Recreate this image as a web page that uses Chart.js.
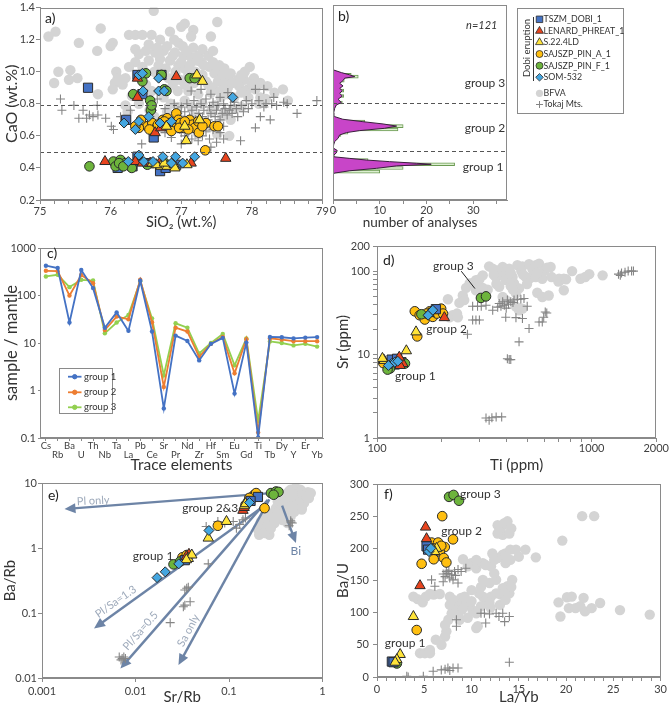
<!DOCTYPE html>
<html><head><meta charset="utf-8">
<script src="https://cdn.jsdelivr.net/npm/chart.js@4.4.1/dist/chart.umd.min.js"></script>
<style>html,body{margin:0;padding:0;background:#fff}#root{position:relative;width:669px;height:711px;overflow:hidden;background:#fff}canvas{position:absolute}</style>
</head><body><div id="root"></div><script>
// ---------------- DATA ----------------
// Panel a: CaO vs SiO2  [SiO2, CaO]
const aBFVA=[[75.12,1.22],[75.22,1.25],[75.26,1.0],[75.2,0.93],[75.43,1.01],[75.41,0.95],[75.53,0.96],[75.55,1.18],[75.81,1.13],[75.86,1.27],[75.82,0.86],[76.03,1.18],[76.0,1.16],[76.08,1.0],[76.1,0.96],[76.06,0.93],[76.03,0.89],[76.26,1.23],[76.35,1.23],[76.45,1.23],[76.58,1.23],[76.61,1.38],[76.7,1.2],[76.35,1.14],[76.4,1.11],[76.54,1.07],[76.35,1.06],[76.26,1.03],[76.21,0.96],[76.17,0.92],[76.54,1.17],[76.63,1.12],[76.75,1.13],[76.84,1.25],[76.91,1.12],[76.96,1.18],[76.84,1.07],[76.96,1.04],[76.68,1.04],[76.58,0.88],[76.24,0.75],[76.21,0.79],
[77.0,1.28],[77.05,1.3],[77.17,1.26],[77.51,1.31],[77.14,1.22],[77.42,1.22],[77.17,1.15],[77.03,1.1],[77.14,1.09],[77.24,1.1],[77.38,1.1],[77.28,1.06],[77.4,1.03],[77.54,1.04],[77.61,1.02],[77.97,1.03],[77.05,1.02],[77.47,0.99],[77.66,0.96],[77.8,0.95],[77.89,0.95],[78.03,0.96],[77.52,0.94],[77.38,0.92],[77.66,0.9],[77.82,0.91],[77.94,0.89],[78.05,0.89],[78.22,0.91],[78.44,0.89],[78.32,0.87],[78.51,0.82],[78.12,0.84],[77.75,0.84],[77.56,0.84],[77.42,0.87],[77.24,0.86],[77.1,0.88],[77.75,0.77],[77.61,0.75],[77.42,0.75],[77.68,0.6],[77.51,0.61],[77.38,0.65],[77.24,0.61],
[76.62,1.0],[76.7,1.08],[76.78,1.02],[76.82,0.96],[76.88,1.1],[76.92,1.0],[76.98,0.95],[77.0,1.06],[77.08,1.13],[77.1,0.98],[77.12,1.04],[77.2,1.0],[77.22,1.07],[77.3,0.98],[77.32,1.04],[77.35,0.94],[77.45,1.06],[77.5,1.0],[77.58,0.98],[77.6,0.92],[77.7,0.99],[77.72,0.93],[77.85,0.98],[77.9,1.0],[76.5,1.13],[76.45,1.03],[76.66,1.15],[76.8,1.16],[76.9,1.2],[77.02,1.16],[77.3,1.14],[77.45,1.13],[76.88,0.92],[76.95,0.88],[77.05,0.92],[77.18,0.93],[77.25,0.95],[77.45,0.9],[77.55,0.88],[77.65,0.86],[77.85,0.87],[77.95,0.84],[78.0,0.92],[78.12,0.93],[76.75,0.84],[76.85,0.8],[76.95,0.78],[77.05,0.82],[77.15,0.78],[77.3,0.8],[77.48,0.79],[77.58,0.72],[77.7,0.7],[77.2,0.72],[77.35,0.68],[78.1,0.8],[76.5,0.92],[76.3,0.85],[76.4,0.8],[76.55,0.76],[76.62,0.72],[76.8,0.75],[77.02,0.7],[77.85,0.78],[78.2,0.83]];
const aTokaj=[[75.29,0.83],[75.31,0.76],[75.48,0.79],[75.55,0.71],[75.61,0.76],[75.66,0.71],[75.7,0.73],[75.75,0.72],[75.81,0.79],[75.82,0.73],[75.93,0.71],[76.01,0.66],[76.04,0.64],[76.14,0.72],[76.28,0.76],[76.44,0.55],[76.59,0.76],[76.66,0.83],[76.77,0.77],
[76.86,0.59],[76.77,0.62],[76.86,0.64],[77.0,0.55],[77.24,0.57],[77.42,0.53],[77.14,0.88],[77.28,0.89],[77.42,0.86],[77.55,0.84],[77.66,0.87],[77.7,0.79],[77.84,0.57],[76.9,0.8],[76.95,0.74],[77.0,0.78],[77.05,0.75],[77.08,0.8],[77.12,0.72],[77.15,0.76],[77.18,0.82],[77.2,0.7],[77.22,0.78],[77.25,0.74],[77.28,0.8],[77.3,0.72],[77.32,0.76],[77.35,0.83],[77.38,0.7],[77.4,0.78],[77.42,0.74],[77.45,0.81],[77.48,0.72],[77.5,0.76],[77.52,0.79],[77.55,0.7],[77.58,0.74],[77.6,0.8],[77.62,0.77],[77.65,0.73],[77.68,0.76],[77.72,0.74],[77.75,0.81],[77.78,0.77],[77.8,0.72],[77.85,0.79],[77.88,0.75],[77.0,0.62],[77.05,0.6],[77.1,0.64],[77.15,0.58],[77.2,0.62],[77.25,0.66],[77.3,0.6],[77.35,0.63],[77.4,0.58],[77.45,0.64],[77.5,0.56],[77.55,0.62],[77.6,0.58],[76.92,0.68],[76.98,0.64],[77.1,0.68],[77.6,0.66],
[78.05,0.89],[78.17,0.89],[78.1,0.82],[78.12,0.72],[78.05,0.65],[78.26,0.7],[78.17,0.78],[78.31,0.84],[78.64,0.74],[78.92,0.82],[78.0,0.8],[78.2,0.8],[78.35,0.79],[78.5,0.8],[78.28,0.8],[77.95,0.77],[77.92,0.82],[78.45,0.81]];
const aTSZM=[[75.68,0.9],[76.38,0.98],[76.72,0.98],[76.45,0.86],[76.22,0.7],[76.61,0.59],[76.1,0.4],[76.38,0.47],[76.7,0.38],[76.31,0.41],[76.93,0.42],[76.55,0.43],[76.78,0.4]];
const aLENARD=[[76.93,0.97],[76.38,0.96],[76.38,0.84],[76.63,0.62],[75.92,0.44],[76.35,0.44],[76.56,0.43],[76.72,0.45],[77.14,0.43],[77.63,0.46],[76.71,0.65],[76.45,0.43]];
const aS22=[[77.22,0.98],[77.3,0.94],[77.26,0.7],[77.05,0.66],[76.79,0.66],[77.07,0.57],[76.59,0.43],[76.71,0.41],[76.8,0.41],[76.9,0.42],[76.91,0.4],[77.08,0.42],[76.65,0.42],[76.76,0.43]];
const aPINA=[[76.45,0.67],[76.52,0.66],[76.59,0.68],[76.66,0.66],[76.74,0.7],[76.8,0.71],[76.83,0.68],[76.86,0.66],[76.93,0.74],[76.96,0.7],[76.99,0.68],[77.03,0.65],[77.12,0.7],[77.16,0.67],[77.19,0.65],[77.24,0.69],[77.25,0.62],[77.35,0.68],[77.47,0.66],[77.52,0.66],[77.34,0.51],[76.67,0.67],[76.86,0.63],[76.97,0.65],[77.05,0.69],[76.76,0.69],[76.4,0.65],[76.43,0.7],[76.55,0.64],[77.1,0.64],[76.35,0.66],[77.3,0.66]];
const aPINF=[[76.5,0.99],[76.72,0.98],[76.45,0.94],[77.12,0.96],[77.19,0.96],[76.32,0.86],[76.76,0.89],[76.79,0.88],[76.56,0.82],[76.57,0.76],[76.58,0.79],[75.7,0.41],[76.04,0.44],[76.14,0.45],[76.21,0.43],[76.07,0.41],[76.3,0.4],[76.12,0.43],[76.18,0.41],[76.77,0.43],[76.52,0.42]];
const aSOM=[[76.4,0.98],[76.45,0.99],[76.68,0.96],[76.46,0.88],[76.68,0.88],[76.76,0.88],[77.73,0.84],[76.19,0.68],[76.35,0.64],[76.4,0.69],[76.54,0.72],[76.7,0.68],[76.86,0.69],[76.25,0.44],[76.4,0.48],[76.47,0.44],[76.74,0.47],[76.86,0.43],[76.92,0.47],[77.02,0.43],[77.19,0.47],[76.6,0.44]];
const aGroupLines=[0.795,0.502];
const aXLabels=[75,76,77,78,79];
const aYLabels=[0.2,0.4,0.6,0.8,1.0,1.2,1.4];

// Panel b: histogram  [CaO, count]
const bMagenta=[[1.00,0.15],[0.984,1.8],[0.97,3.6],[0.959,4.65],[0.95,2.5],[0.935,2.15],[0.918,1.43],[0.902,2.15],[0.887,1.43],[0.873,2.0],[0.856,1.43],[0.84,2.0],[0.82,1.08],[0.80,1.79],[0.785,0.72],[0.764,0.36],[0.737,0.15],[0.723,0.15],[0.713,0.36],[0.697,2.1],[0.682,6.4],[0.668,10.7],[0.655,13.6],[0.641,11],[0.627,5.7],[0.615,2.9],[0.60,1.4],[0.58,1.1],[0.56,0.36],[0.54,0.15],[0.52,0.05],[0.505,0.9],[0.49,0.72],[0.476,0.15],[0.466,0.15],[0.456,3.6],[0.446,7.1],[0.436,12.1],[0.426,17.9],[0.42,21],[0.41,13.6],[0.395,9.3],[0.38,3.6],[0.366,0.4],[0.36,0]];
const bGreen=[[0.97,3.9],[0.959,5.4],[0.935,2.4],[0.873,2.3],[0.84,2.3],[0.80,2.0],[0.682,6.8],[0.655,15],[0.634,13.9],[0.615,3.2],[0.60,1.7],[0.446,7.5],[0.42,26],[0.397,15],[0.375,10]];
const bXLabels=[0,10,20,30];
const bGroupText=[['group 3',32.5,0.922],['group 2',32.5,0.645],['group 1',32.1,0.405]];

// Panel c: spider diagram
const cElements=['Cs','Rb','Ba','U','Th','Nb','Ta','La','Pb','Ce','Sr','Pr','Nd','Zr','Hf','Sm','Eu','Gd','Ti','Tb','Dy','Y','Er','Yb'];
const cGroup1=[424,378,27,343,143,21,44,18,204,17.4,0.42,14.3,11,4.3,9.6,12.8,0.86,10.2,0.103,13.4,13.2,12.5,13,13.3];
const cGroup2=[331,325,100,270,182,18.8,36,31.6,214,27.4,1.19,21,17.4,5.1,9.6,13.4,2.3,12.0,0.13,12.6,11.8,10.9,10.9,10.9];
const cGroup3=[252,273,150,214,207,16,27,39,200,33,2.1,26,21,6,10,15.5,3.4,12.4,0.23,10.8,10,8.9,9.6,8.4];
const cYLabels=[0.1,1,10,100,1000];

// Panel d: Sr vs Ti  [Ti, Sr]
const dBFVA=[[214,46],[225,29.6],[236,31],[242,41.6],[251,51],[260,63],[270,71],[255,45],[279,72],[289,78],[294,66],[311,89],[328,60],[333,114],[346,107],[365,102],[371,65],[378,89],[398,78],[413,107],[420,66],[435,71],[451,118],[459,62],[476,114],[493,85],[511,121],[529,85],[549,118],[569,123],[511,81],[558,55],[589,49],[631,51],[644,112],[716,78],[742,81],[742,59],[811,100],[887,81],[934,85],[975,92],[1125,89],[218,28],[238,28],[444,37.5],[459,34],[476,35.5],[385,49],[398,45],[444,54],[428,85],[385,112],[289,59],[311,63],[358,85],[549,85],[589,81],[705,81],[400,100],[420,95],[470,100],[530,105],[600,100],[620,110],[350,90],[300,80],[360,70],[430,60],[500,70],[560,95],[650,85],[700,75],[760,80],[480,90]];
const dTokaj=[[279,38],[294,38],[306,38],[322,39],[346,34],[371,41],[378,38],[385,43],[392,39],[405,45],[420,43],[435,45],[451,46],[468,46],[484,47],[501,38],[398,28],[444,27.7],[476,27],[279,26],[289,26],[300,26],[264,17.5],[459,14.2],[511,20.5],[569,24.6],[589,24.6],[598,28],[608,32.4],[618,31.5],[405,8.9],[413,8.7],[420,8.7],[322,1.74],[333,1.63],[343,1.75],[359,1.79],[381,1.79],[1334,92],[1378,95],[1431,97],[1480,100],[1535,100],[1566,100],[1360,89],[410,40],[430,42],[400,36],[365,37]];
const dTSZM=[[117,8.7],[130,8.1],[124,8.9],[121,7.6],[188,35]];
const dLENARD=[[132,7.8],[128,7.4],[206,27.7],[127,9.3]];
const dS22=[[108,8.5],[137,11.1],[152,18.7],[106,9.0],[175,31]];
const dPINA=[[107,7.9],[154,16.5],[150,33],[158,29.6],[167,26.3],[176,29.6],[195,34],[199,35.5],[182,28.3],[176,33],[190,31],[170,31],[203,31]];
const dPINF=[[115,6.8],[135,7.8],[161,30.4],[305,47.7],[322,49.8],[112,6.6]];
const dSOM=[[117,7.8],[121,8.1],[113,7.4],[176,31],[173,29.6],[182,34],[125,8.3]];
const dXLabels=[100,1000,2000];
const dYLabels=[1,10,100,200];

// Panel e: Ba/Rb vs Sr/Rb  [Sr/Rb, Ba/Rb]
const eBFVA=[[0.203,1.95],[0.229,2.14],[0.259,2.56],[0.281,3.24],[0.318,4.11],[0.359,4.9],[0.389,5.87],[0.422,7.0],[0.457,7.9],[0.517,6.6],[0.561,5.53],[0.634,4.9],[0.688,7.0],[0.716,5.87],[0.58,7.9],[0.5,4.36],[0.422,3.66],[0.345,3.06],[0.307,2.42],[0.27,1.6],[0.24,2.05],[0.374,2.7],[0.405,4.36],[0.457,5.53],[0.538,4.36],[0.6,3.9],[0.422,2.42],[0.457,3.06],[0.307,3.66],[0.249,3.24],[0.22,2.56],[0.517,8.4],[0.374,6.6],[0.332,5.2],[0.6,7.5],[0.65,6.5],[0.7,7.2],[0.75,7.0],[0.55,6.0],[0.48,6.9],[0.44,7.5],[0.52,5.0],[0.62,5.5],[0.4,5.0],[0.36,4.0],[0.33,3.5],[0.29,2.9],[0.26,2.3],[0.23,1.8],[0.21,1.6],[0.24,1.7],[0.28,2.0],[0.31,2.6],[0.35,3.0],[0.38,3.4],[0.43,4.2],[0.47,4.6],[0.5,3.6],[0.56,4.8],[0.6,4.2],[0.68,6.0],[0.45,6.2]];
const eTokaj=[[0.457,2.63],[0.475,2.42],[0.44,2.2],[0.141,2.72],[0.111,2.56],[0.12,2.02],[0.09,2.42],[0.076,2.56],[0.057,2.14],[0.06,0.57],[0.0353,0.24],[0.0367,0.25],[0.0337,0.226],[0.0384,0.149],[0.0337,0.132],[0.0325,0.125],[0.0235,0.071],[0.0072,0.02],[0.0067,0.021],[0.0075,0.021],[0.0078,0.02],[0.007,0.019],[0.13,2.3],[0.15,2.9],[0.46,2.5]];
const eTSZM=[[0.204,6.1],[0.0337,0.65],[0.17,5.3]];
const eLENARD=[[0.141,3.8],[0.0373,0.8],[0.035,0.74],[0.145,4.2]];
const eS22=[[0.146,4.47],[0.094,2.56],[0.06,1.42],[0.0367,0.69],[0.04,0.78],[0.035,0.66],[0.15,4.8]];
const ePINA=[[0.187,6.6],[0.179,6.2],[0.171,5.5],[0.16,5.2],[0.15,4.6],[0.195,7.0],[0.24,4.1],[0.076,2.2],[0.165,5.9],[0.0318,0.72],[0.0353,0.78]];
const ePINF=[[0.281,7.0],[0.318,7.4],[0.338,7.3],[0.3,6.6],[0.0255,0.56],[0.03,0.62]];
const eSOM=[[0.166,5.0],[0.061,1.86],[0.017,0.35],[0.0208,0.43],[0.029,0.57]];
const eArrows=[[0.33,7.1,0.00174,3.97],[0.247,4.62,0.0036,0.058],[0.26,5.5,0.0069,0.014],[0.27,5.6,0.0288,0.0158],[0.37,4.5,0.52,1.19]];
const eArrowText=[['Pl only',0.00353,5.33,-3],['Pl/Sa=1.3',0.00615,0.149,-35],['Pl/Sa=0.5',0.0113,0.053,-49],['Sa only',0.0368,0.054,-62]];
const eXLabels=[0.001,0.01,0.1,1];
const eYLabels=[0.01,0.1,1,10];

// Panel f: Ba/U vs La/Yb  [La/Yb, Ba/U]
const fBFVA=[[4.3,121],[4.83,116],[5.17,125],[5.6,129],[6.0,128],[6.64,129],[3.85,125],[4.55,37],[5.07,37],[5.6,42],[5.6,37],[6.22,58],[6.82,50],[7.2,63],[7.34,71],[7.2,81],[7.55,89],[7.9,99],[8.2,107],[8.57,115],[8.9,123],[9.27,125],[8.4,99],[8.74,89],[9.27,110],[9.8,112],[10.1,104],[10.66,79],[10.5,99],[11.0,110],[11.5,120],[12.06,125],[12.6,130],[13.3,138],[13.8,141],[14.3,151],[14.0,130],[13.1,128],[11.9,115],[11.2,125],[9.44,117],[8.04,120],[7.7,125],[9.6,172],[9.96,177],[10.5,169],[10.66,177],[11.2,177],[11.5,174],[12.06,172],[12.4,182],[12.2,192],[12.76,185],[13.3,190],[13.6,192],[14.1,198],[14.7,198],[15.0,187],[15.7,198],[16.8,186],[13.6,177],[14.1,182],[9.1,183],[10.5,182],[12.76,236],[13.1,231],[13.46,239],[13.8,242],[14.2,231],[12.9,226],[13.3,221],[14.0,223],[12.76,223],[19.6,212],[19.4,94],[19.2,116],[20.1,124],[20.6,125],[20.3,107],[21.0,107],[21.5,110],[21.85,123],[22.0,102],[22.7,107],[23.6,115],[21.7,250],[22.97,250],[25.7,104],[28.85,97],[10.5,76],[12.6,151],[12.4,161],[11.9,146],[11.2,151],[8.0,110],[9.0,105],[10.0,118],[10.8,130],[12.0,108],[13.0,112],[13.6,120],[8.6,95],[9.6,92],[14.2,140],[7.7,112],[11.0,140],[10.0,135]];
const fTokaj=[[5.77,151],[6.12,141],[7.0,148],[7.2,156],[7.5,161],[7.9,159],[8.2,164],[8.57,167],[8.9,164],[9.4,169],[7.34,164],[7.7,154],[8.04,151],[8.57,146],[7.0,160],[7.6,166],[8.3,158],[11.0,99],[11.36,99],[11.9,98],[12.6,99],[12.9,94],[13.5,86],[14.0,94],[13.3,99],[11.5,84],[8.4,79],[8.4,89],[14.0,23],[3.15,1],[3.3,0],[4.9,1],[5.94,9],[6.8,11],[7.2,12],[7.5,14],[8.04,14],[8.57,14],[7.7,10]];
const fTSZM=[[5.24,203],[1.57,24],[1.75,23],[5.4,198]];
const fLENARD=[[5.14,233],[5.24,215],[4.55,142]];
const fS22=[[6.3,200],[5.94,198],[3.85,94],[2.45,35],[2.1,27],[1.92,23],[6.1,195]];
const fPINA=[[6.9,250],[8.04,214],[5.77,209],[6.47,209],[7.17,202],[5.94,200],[6.64,195],[7.06,185],[6.0,183],[7.34,178],[4.72,176],[4.2,73],[6.8,204]];
const fPINF=[[7.62,280],[8.1,283],[8.67,274],[2.1,21]];
const fSOM=[[5.49,195],[5.7,200]];
const fXLabels=[0,5,10,15,20,25,30];
const fYLabels=[0,50,100,150,200,250,300];

const legendItems=[['TSZM','TSZM_DOBI_1'],['LENARD','LENARD_PHREAT_1'],['S22','S.22.4LD'],['PINA','SAJSZP_PIN_A_1'],['PINF','SAJSZP_PIN_F_1'],['SOM','SOM-532']];

// ---------------- STYLE / HELPERS ----------------
const FONT="Lato, 'Open Sans', 'DejaVu Sans', sans-serif";
Chart.defaults.font.family=FONT;
Chart.defaults.color='#3a3a3a';
Chart.defaults.animation=false;
Chart.defaults.plugins.legend.display=false;
Chart.defaults.plugins.tooltip.enabled=false;
Chart.defaults.events=[];
const AX='#8a8a8a';
const S={
 TSZM:{style:'rect',r:6.5,bg:'#4472c4'},
 LENARD:{style:'triangle',r:6,bg:'#e8441e'},
 S22:{style:'triangle',r:6,bg:'#ffe43a'},
 PINA:{style:'circle',r:4.8,bg:'#ffbf10'},
 PINF:{style:'circle',r:4.8,bg:'#6db43c'},
 SOM:{style:'rectRot',r:5,bg:'#44a6e0'}
};
const root=document.getElementById('root');
function mk(l,t,w,h){const c=document.createElement('canvas');c.width=w;c.height=h;c.style.left=l+'px';c.style.top=t+'px';c.style.width=w+'px';c.style.height=h+'px';root.appendChild(c);return c;}
function pts(a){return a.map(p=>({x:p[0],y:p[1]}));}
function sampleSets(list){return list.map(([k,d])=>({data:pts(d),pointStyle:S[k].style,pointRadius:S[k].r,backgroundColor:S[k].bg,borderColor:'#2a2a2a',borderWidth:1}));}
function bgSets(bfva,tokaj){return [
 {data:pts(tokaj),pointStyle:'cross',pointRadius:4.5,borderColor:'#858585',backgroundColor:'#858585',borderWidth:1.1},
 {data:pts(bfva),pointStyle:'circle',pointRadius:5.2,backgroundColor:'#d4d4d4',borderColor:'rgba(0,0,0,0)',borderWidth:0}];}
function range(a,b,s){const r=[];for(let v=a;v<=b+1e-9;v+=s)r.push(+v.toFixed(4));return r;}
function ax(o){
 const major=o.major||[],all=o.all||major;
 const isMajor=v=>major.some(m=>Math.abs(m-v)<1e-9*Math.max(1,Math.abs(m)));
 const c={type:o.type||'linear',min:o.min,max:o.max,offset:!!o.offset,
  afterFit:s=>{if(o.x)s.height=o.size;else s.width=o.size;},
  ticks:{display:o.showTicks!==false,autoSkip:false,maxRotation:0,minRotation:0,padding:o.pad??1,color:'#404040',font:{size:o.fs||11,lineHeight:o.lh||1.2},
   callback:o.cb||(v=>isMajor(v)?(o.fmt?o.fmt(v):String(v)):'')},
  grid:{drawOnChartArea:false,drawTicks:o.tl!==0,tickLength:o.tl??4,color:AX,offset:false},
  border:{display:true,color:AX,width:1},
  title:{display:!!o.title,text:o.title,color:'#333',font:{size:o.ts||15},padding:o.tpad||0}};
 if(o.type!=='category')c.afterBuildTicks=s=>{s.ticks=all.map(v=>({value:v}));};
 return c;
}
function text(ctx,s,x,y,o={}){
 ctx.save();ctx.translate(x,y);if(o.rot)ctx.rotate(o.rot*Math.PI/180);
 ctx.font=`${o.style||''} ${o.size||12}px ${FONT}`;ctx.fillStyle=o.color||'#333';
 ctx.textAlign=o.align||'center';ctx.textBaseline=o.base||'middle';ctx.fillText(s,0,0);ctx.restore();
}
function dtext(ch,s,xv,yv,o){text(ch.ctx,s,ch.scales.x.getPixelForValue(xv),ch.scales.y.getPixelForValue(yv),o);}
function marker(ctx,style,x,y,r,fill,stroke,lw=1){
 ctx.save();ctx.beginPath();ctx.fillStyle=fill;ctx.strokeStyle=stroke;ctx.lineWidth=lw;
 if(style==='circle'){ctx.arc(x,y,r,0,Math.PI*2);}
 else if(style==='rect'){const s=r*Math.SQRT1_2;ctx.rect(x-s,y-s,2*s,2*s);}
 else if(style==='rectRot'){ctx.moveTo(x,y-r);ctx.lineTo(x+r,y);ctx.lineTo(x,y+r);ctx.lineTo(x-r,y);ctx.closePath();}
 else if(style==='triangle'){for(let i=0;i<3;i++){const a=i*2*Math.PI/3;const px=x+Math.sin(a)*r,py=y-Math.cos(a)*r;i?ctx.lineTo(px,py):ctx.moveTo(px,py);}ctx.closePath();}
 else if(style==='cross'){ctx.moveTo(x-r,y);ctx.lineTo(x+r,y);ctx.moveTo(x,y-r);ctx.lineTo(x,y+r);ctx.stroke();ctx.restore();return;}
 ctx.fill();ctx.stroke();ctx.restore();
}
const frame={id:'frame',afterDraw(ch){const {ctx,chartArea:a}=ch;ctx.save();ctx.strokeStyle=AX;ctx.lineWidth=1;
 ctx.strokeRect(Math.round(a.left)+0.5,Math.round(a.top)+0.5,Math.round(a.right-a.left)-1,Math.round(a.bottom-a.top)-1);ctx.restore();}};
function panelLabel(s,dx,dy){return {id:'pl'+s,afterDraw(ch){const a=ch.chartArea;text(ch.ctx,s,a.left+dx,a.top+dy,{size:14,align:'left',color:'#222'});}};}
function hlines(vals){return {id:'hl',afterDatasetsDraw(ch){const {ctx,chartArea:a}=ch;ctx.save();ctx.strokeStyle='#555';ctx.lineWidth=1;ctx.setLineDash([4,3]);
 vals.forEach(v=>{const y=Math.round(ch.scales.y.getPixelForValue(v))+0.5;ctx.beginPath();ctx.moveTo(a.left,y);ctx.lineTo(a.right,y);ctx.stroke();});ctx.restore();}};}
const base=(pad)=>({responsive:false,maintainAspectRatio:false,devicePixelRatio:1,layout:{padding:pad}});

// ---------------- PANEL A ----------------
new Chart(mk(0,0,330,240),{type:'scatter',
 data:{datasets:[...sampleSets([['SOM',aSOM],['S22',aS22],['LENARD',aLENARD],['PINF',aPINF],['PINA',aPINA],['TSZM',aTSZM]]),...bgSets(aBFVA,aTokaj)]},
 options:{...base({top:5,right:4,left:0,bottom:0}),
  scales:{x:ax({x:true,min:75,max:79,major:aXLabels,all:range(75,79,0.2),size:40,pad:1,title:'SiO₂ (wt.%)',ts:14.5,tpad:{bottom:9}}),
          y:ax({min:0.2,max:1.4,major:aYLabels,size:40,pad:1,fmt:v=>v.toFixed(1),title:'CaO (wt.%)',ts:16,tpad:{top:2}})}},
 plugins:[hlines(aGroupLines),frame,panelLabel('a)',5,11)]});

// ---------------- PANEL B ----------------
new Chart(mk(300,0,369,240),{type:'line',
 data:{datasets:[
  {type:'line',data:bMagenta.map(p=>({x:p[1],y:p[0]})),fill:'origin',backgroundColor:'#c845c8',borderColor:'#3a1d3d',borderWidth:1,pointRadius:0,tension:0},
  {type:'bar',data:bGreen.map(p=>({x:p[1],y:p[0]})),backgroundColor:'#dcefd0',borderColor:'#6b9a52',borderWidth:1,barThickness:3}]},
 options:{...base({top:5,right:162,left:0,bottom:0}),indexAxis:'y',
  scales:{x:ax({x:true,min:0,max:37.2,major:bXLabels,all:range(0,35,5),size:40,pad:0,title:'number of analyses',ts:13.5,tpad:{bottom:9}}),
          y:ax({min:0.2,max:1.4,major:[],all:[0.2,1.4],size:33,showTicks:false,tl:0})}},
 plugins:[hlines(aGroupLines),frame,panelLabel('b)',5,11),{id:'bt',afterDraw(ch){
  const ctx=ch.ctx;
  dtext(ch,'n=121',31.8,1.273,{size:11,style:'italic'});
  bGroupText.forEach(g=>dtext(ch,g[0],g[1],g[2],{size:12}));
  // legend box (canvas coords; canvas left = 300)
  const L=217,T=8;
  ctx.save();ctx.strokeStyle='#8a8a8a';ctx.lineWidth=1;ctx.strokeRect(L+0.5,T+0.5,106,105);
  ctx.strokeStyle='#333';ctx.beginPath();ctx.moveTo(233.5,17);ctx.lineTo(233.5,81);ctx.stroke();ctx.restore();
  text(ctx,'Dobi eruption',226.5,48,{size:9.5,rot:-90});
  const ys=[19.3,31,42.3,54,65.7,77.3];
  legendItems.forEach((it,i)=>{const st=S[it[0]];marker(ctx,st.style,239.5,ys[i],st.style==='circle'?3.5:(st.style==='rectRot'?3.8:4.6),st.bg,'#2a2a2a',0.8);
   text(ctx,it[1],243.5,ys[i],{size:8.8,align:'left',color:'#333'});});
  marker(ctx,'circle',239.5,93.3,3.6,'#d4d4d4','rgba(0,0,0,0)',0);
  text(ctx,'BFVA',243.5,93.3,{size:8.8,align:'left',color:'#333'});
  marker(ctx,'cross',239.5,104.5,3.5,'#858585','#858585',1);
  text(ctx,'Tokaj Mts.',243.5,104.5,{size:8.8,align:'left',color:'#333'});
 }}]});

// ---------------- PANEL C ----------------
new Chart(mk(0,235,330,240),{type:'line',
 data:{labels:cElements,datasets:[
  {data:cGroup1,borderColor:'#4472c4',backgroundColor:'#4472c4',borderWidth:1.8,pointRadius:2.2,pointBorderWidth:0},
  {data:cGroup2,borderColor:'#ed7d31',backgroundColor:'#ed7d31',borderWidth:1.8,pointRadius:2.2,pointBorderWidth:0},
  {data:cGroup3,borderColor:'#92d050',backgroundColor:'#92d050',borderWidth:1.8,pointRadius:2.2,pointBorderWidth:0}]},
 options:{...base({top:13,right:7,left:0,bottom:0}),
  scales:{x:ax({x:true,type:'category',offset:true,size:37,pad:0,tl:3,fs:9.5,lh:1.0,title:'Trace elements',ts:15.5,tpad:{bottom:1},
           cb:(v,i)=>i%2===0?[cElements[i],'']:['',cElements[i]]}),
          y:ax({type:'logarithmic',min:0.1,max:1000,major:cYLabels,size:40,pad:2,tl:2,title:'sample / mantle',ts:16.5,tpad:{top:2}})}},
 plugins:[frame,panelLabel('c)',7,5),{id:'cl',afterDraw(ch){
  const ctx=ch.ctx,a=ch.chartArea,L=a.left+19,T=a.top+120;
  ctx.save();ctx.fillStyle='#fff';ctx.fillRect(L,T,53,45);ctx.strokeStyle='#8a8a8a';ctx.lineWidth=1;ctx.strokeRect(L+0.5,T+0.5,53,45);ctx.restore();
  [['group 1','#4472c4',8.7],['group 2','#ed7d31',24.3],['group 3','#92d050',39.3]].forEach(([s,c,dy])=>{
   ctx.save();ctx.strokeStyle=c;ctx.lineWidth=1.8;ctx.beginPath();ctx.moveTo(L+9,T+dy);ctx.lineTo(L+22.5,T+dy);ctx.stroke();ctx.restore();
   marker(ctx,'circle',L+15.7,T+dy,2.2,c,c,0);
   text(ctx,s,L+25,T+dy,{size:9.5,align:'left'});});
 }}]});

// ---------------- PANEL D ----------------
new Chart(mk(330,235,339,240),{type:'scatter',
 data:{datasets:[...sampleSets([['SOM',dSOM],['S22',dS22],['LENARD',dLENARD],['PINF',dPINF],['TSZM',dTSZM],['PINA',dPINA]]),...bgSets(dBFVA,dTokaj)]},
 options:{...base({top:11,right:11,left:0,bottom:0}),
  scales:{x:ax({x:true,type:'logarithmic',min:100,max:2000,major:dXLabels,all:[100,200,300,400,500,600,700,800,900,1000,2000],size:37,pad:0,title:'Ti (ppm)',tpad:{bottom:1}}),
          y:ax({type:'logarithmic',min:1,max:200,major:dYLabels,all:[1,2,3,4,5,6,7,8,9,10,20,30,40,50,60,70,80,90,100,200],size:47,pad:3,title:'Sr (ppm)',tpad:{top:4}})}},
 plugins:[frame,panelLabel('d)',6,14),{id:'dt',afterDraw(ch){
  const ctx=ch.ctx,X=ch.scales.x,Y=ch.scales.y;
  dtext(ch,'group 3',227,114.5,{size:12});
  ctx.save();ctx.strokeStyle='#222';ctx.lineWidth=1;ctx.beginPath();ctx.moveTo(X.getPixelForValue(247),Y.getPixelForValue(99.7));ctx.lineTo(X.getPixelForValue(286),Y.getPixelForValue(61.8));ctx.stroke();ctx.restore();
  dtext(ch,'group 2',211,20.1,{size:12});
  dtext(ch,'group 1',151,5.5,{size:12});
 }}]});

// ---------------- PANEL E ----------------
const eSets=[...sampleSets([['SOM',eSOM],['S22',eS22],['LENARD',eLENARD],['TSZM',eTSZM],['PINF',ePINF],['PINA',ePINA]]),...bgSets(eBFVA,eTokaj)];
new Chart(mk(0,470,330,241),{type:'scatter',
 data:{datasets:eSets},
 options:{...base({top:13,right:5,left:0,bottom:0}),
  scales:{x:ax({x:true,type:'logarithmic',min:0.001,max:1,major:eXLabels,size:33,pad:3,title:'Sr/Rb',tpad:{bottom:5}}),
          y:ax({type:'logarithmic',min:0.01,max:10,major:eYLabels,size:42,pad:1,title:'Ba/Rb',tpad:{top:1}})}},
 plugins:[frame,panelLabel('e)',6,12),{id:'arr',afterDatasetDraw(ch,args){
  if(args.index!==eSets.length-1)return;
  const ctx=ch.ctx,X=ch.scales.x,Y=ch.scales.y;
  eArrows.forEach(r=>{const x1=X.getPixelForValue(r[0]),y1=Y.getPixelForValue(r[1]),x2=X.getPixelForValue(r[2]),y2=Y.getPixelForValue(r[3]);
   const ang=Math.atan2(y2-y1,x2-x1),hl=11,hw=5;
   ctx.save();ctx.strokeStyle='#6d84a6';ctx.fillStyle='#6d84a6';ctx.lineWidth=2.4;
   ctx.beginPath();ctx.moveTo(x1,y1);ctx.lineTo(x2-Math.cos(ang)*hl*0.8,y2-Math.sin(ang)*hl*0.8);ctx.stroke();
   ctx.beginPath();ctx.moveTo(x2,y2);ctx.lineTo(x2-Math.cos(ang)*hl+Math.sin(ang)*hw,y2-Math.sin(ang)*hl-Math.cos(ang)*hw);
   ctx.lineTo(x2-Math.cos(ang)*hl-Math.sin(ang)*hw,y2-Math.sin(ang)*hl+Math.cos(ang)*hw);ctx.closePath();ctx.fill();ctx.restore();});
 },afterDraw(ch){
  eArrowText.forEach(t=>dtext(ch,t[0],t[1],t[2],{size:11,rot:t[3],color:'#9eaabb'}));
  dtext(ch,'Bi',0.519,0.88,{size:12,color:'#6d84a6'});
  dtext(ch,'group 2&3',0.063,4.11,{size:12});
  dtext(ch,'group 1',0.0154,0.755,{size:12});
 }}]});

// ---------------- PANEL F ----------------
new Chart(mk(330,470,339,241),{type:'scatter',
 data:{datasets:[...sampleSets([['SOM',fSOM],['S22',fS22],['TSZM',fTSZM],['LENARD',fLENARD],['PINF',fPINF],['PINA',fPINA]]),...bgSets(fBFVA,fTokaj)]},
 options:{...base({top:14,right:6,left:0,bottom:0}),
  scales:{x:ax({x:true,min:0,max:30,major:fXLabels,all:range(0,30,1),size:34,pad:2,title:'La/Yb',tpad:{bottom:5}}),
          y:ax({min:0,max:300,major:fYLabels,size:47,pad:4,title:'Ba/U',tpad:{top:4}})}},
 plugins:[frame,panelLabel('f)',7,10),{id:'ft',afterDraw(ch){
  dtext(ch,'group 3',10.94,284.5,{size:12});
  dtext(ch,'group 2',8.95,227.5,{size:12});
  dtext(ch,'group 1',2.97,52.8,{size:12});
 }}]});
</script></body></html>
